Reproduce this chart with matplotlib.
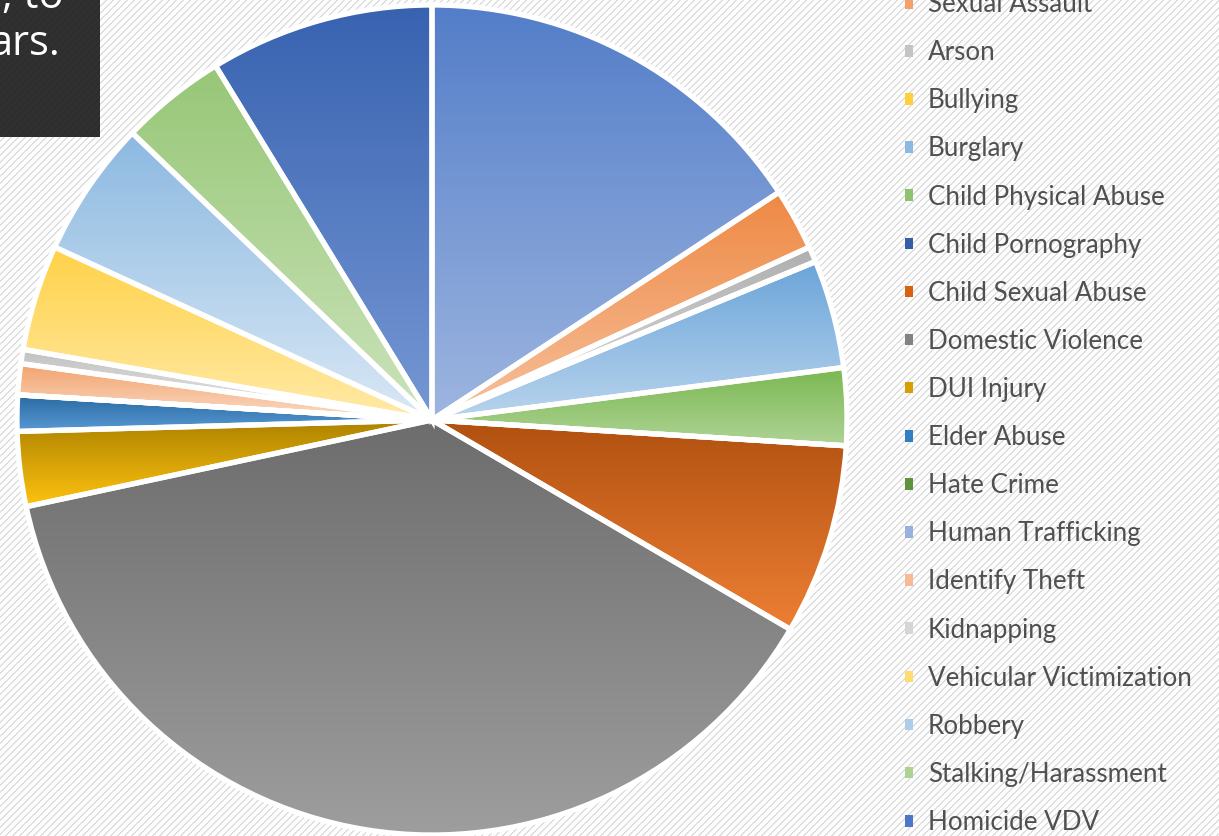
import colorsys
import numpy as np
import matplotlib
matplotlib.use('Agg')
import matplotlib.pyplot as plt
from matplotlib.colors import to_rgb
from matplotlib.patches import Patch, Rectangle

# share of victims by crime type (%)
labels = ['Assault', 'Sexual Assault', 'Arson', 'Bullying', 'Burglary',
          'Child Physical Abuse', 'Child Pornography', 'Child Sexual Abuse',
          'Domestic Violence', 'DUI Injury', 'Elder Abuse', 'Hate Crime',
          'Human Trafficking', 'Identify Theft', 'Kidnapping',
          'Vehicular Victimization', 'Robbery', 'Stalking/Harassment',
          'Homicide VDV']
values = [15.7, 2.4, 0.6, 0, 4.2,
          3.0, 0, 7.4,
          38.1, 2.9, 1.4, 0,
          0, 1.2, 0.55,
          4.1, 5.3, 4.1,
          8.7]
colors = ['#4472C4', '#ED7D31', '#A5A5A5', '#FFC000', '#5B9BD5',
          '#70AD47', '#264478', '#9E480E', '#636363', '#997300',
          '#255E91', '#43682B', '#698ED0', '#F1975A', '#B7B7B7',
          '#FFCD33', '#7CAFDD', '#8CC168', '#335AA1']


def shade(c, dl):
    h, l, s = colorsys.rgb_to_hls(*to_rgb(c))
    return colorsys.hls_to_rgb(h, min(l + dl, 0.92), s)


W, H = 1219, 836
fig = plt.figure(figsize=(W / 100, H / 100), dpi=100)

# striped slide background
bg = fig.add_axes([0, 0, 1, 1])
bg.set_axis_off()
yy, xx = np.mgrid[0:H, 0:W]
stripe = ((xx + yy) % 7) < 2
img = np.where(stripe[..., None], to_rgb('#dedede'), to_rgb('#fdfdfd'))
bg.imshow(img, extent=(0, W, H, 0), interpolation='nearest', aspect='auto')
bg.set_xlim(0, W)
bg.set_ylim(H, 0)

# dark text box cut off at the top-left
bg.add_patch(Rectangle((0, 0), 100, 137, facecolor='#1a1a1a', alpha=0.9,
                       edgecolor='none'))
bg.text(64, 8, ', to', color='white', fontsize=30, family='Open Sans',
        ha='right', va='baseline')
bg.text(60, 55, 'ars.', color='white', fontsize=30, family='Open Sans',
        ha='right', va='baseline')

# pie
ax = fig.add_axes([17 / W, (H - 420 - 415) / H, 830 / W, 830 / H])
wedges, _ = ax.pie(values, colors=colors, startangle=90, counterclock=False,
                   wedgeprops=dict(edgecolor='white', linewidth=3.8))

for w, c, v in zip(wedges, colors, values):
    if v == 0:
        continue
    x0, y0, x1, y1 = w.get_path().get_extents().extents
    t = np.linspace(0, 1, 64)[:, None]
    grad = (1 - t) * np.array(shade(c, 0.04)) + t * np.array(shade(c, 0.23))
    im = ax.imshow(grad[:, None, :], extent=(x0, x1, y0, y1), origin='upper',
                   interpolation='bilinear', aspect='auto', zorder=0.5)
    im.set_clip_path(w)
    w.set_facecolor('none')

ax.set_xlim(-1, 1)
ax.set_ylim(-1, 1)
ax.set_axis_off()

handles = [Patch(facecolor=shade(c, 0.12), edgecolor='none') for c in colors]
fig.legend(handles, labels, loc='upper left',
           bbox_to_anchor=(905 / W, 1 + 56 / H), frameon=False,
           prop=dict(family='Lato', size=18.7), labelcolor='#505050',
           handlelength=0.31, handleheight=0.31, handletextpad=0.58,
           labelspacing=0.89, borderpad=0, borderaxespad=0)

fig.savefig('out.png', dpi=100)
